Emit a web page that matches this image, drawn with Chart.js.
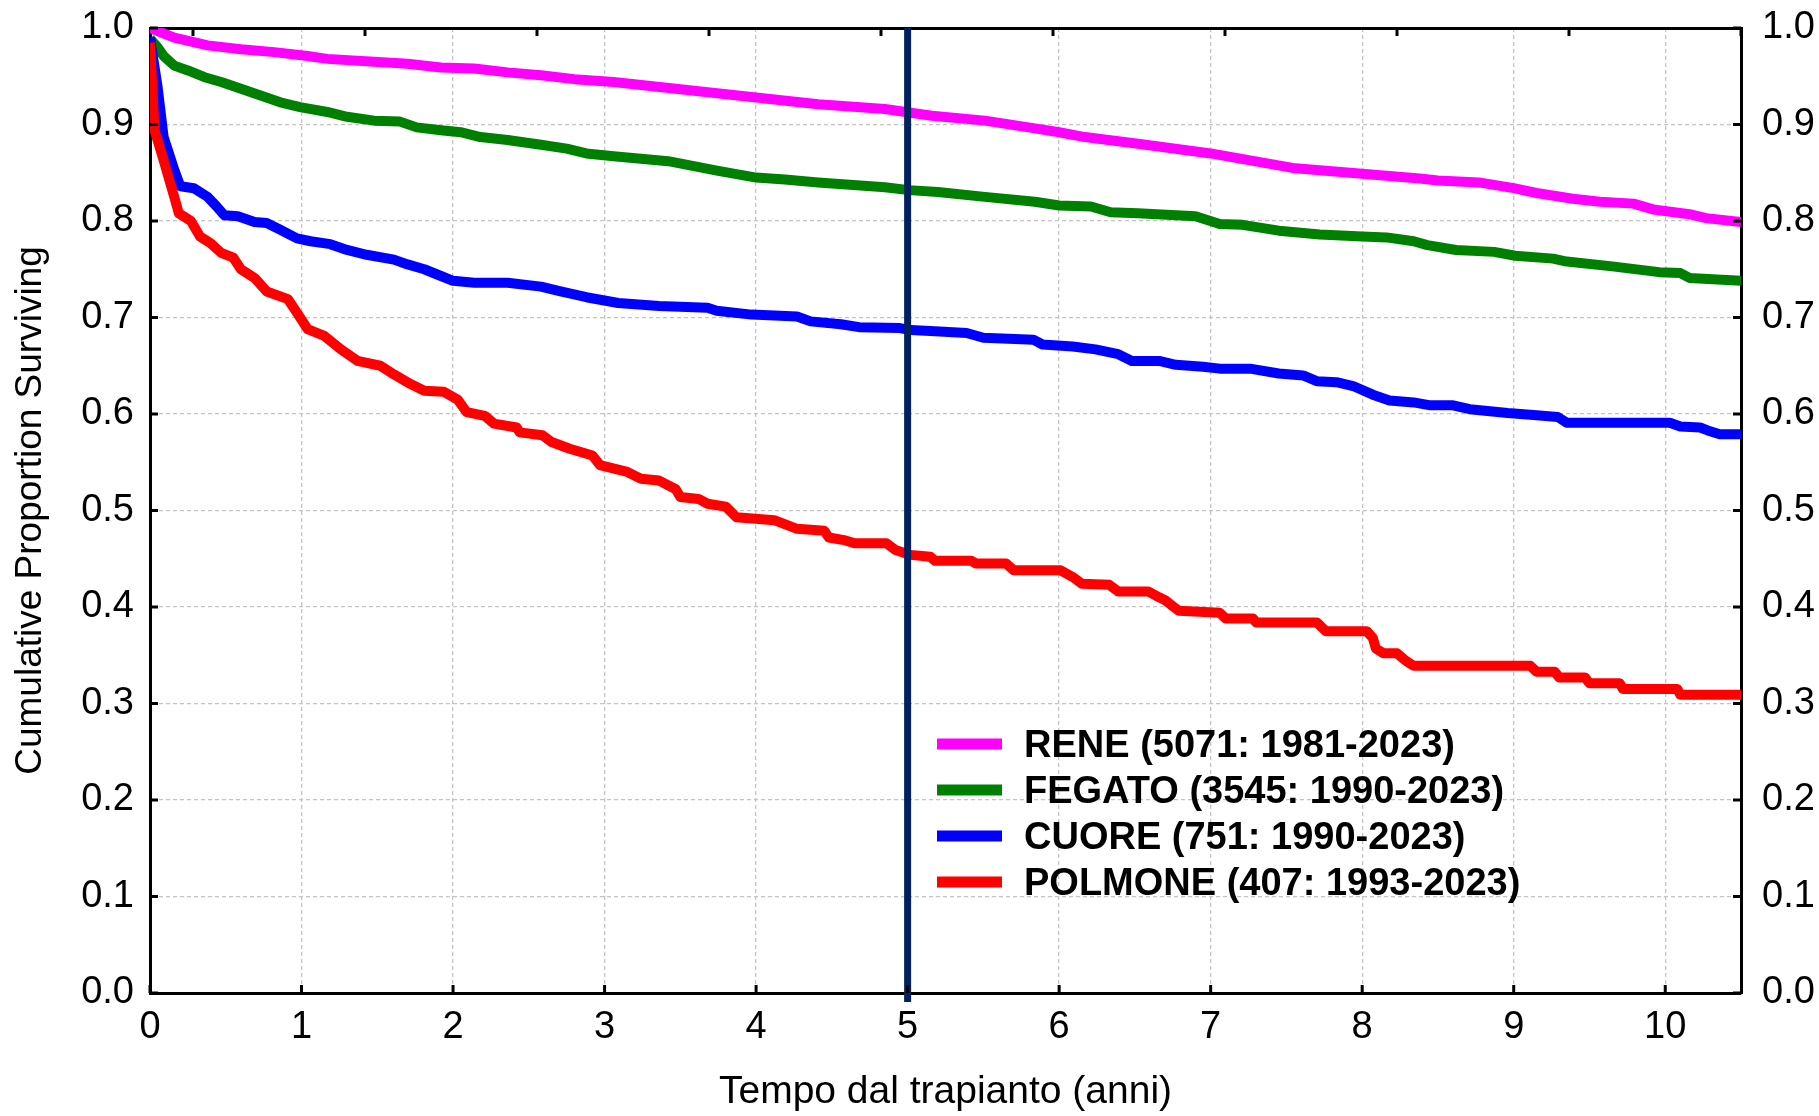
<!DOCTYPE html>
<html>
<head>
<meta charset="utf-8">
<script src="https://cdn.jsdelivr.net/npm/chart.js@4.4.1/dist/chart.umd.min.js"></script>
<style>
  html, body { margin: 0; padding: 0; background: #fff; overflow: hidden; }
  canvas { display: block; }
</style>
</head>
<body>
<canvas id="km" width="1819" height="1116"></canvas>
<script>
// Curve di sopravvivenza (Kaplan-Meier): anni -> proporzione
const reneT = [0, 0.16, 0.38, 0.6, 0.82, 1.04, 1.17, 1.48, 1.7, 1.92, 2.14, 2.36, 2.58, 2.8, 3.06, 3.53, 4.0, 4.41, 4.85, 5.01, 5.16, 5.51, 5.84, 6.0, 6.17, 6.52, 7.0, 7.54, 8.0, 8.38, 8.5, 8.77, 9.0, 9.15, 9.39, 9.57, 9.79, 9.92, 10.16, 10.27, 10.5];
const reneS = [1.0, 0.990, 0.982, 0.978, 0.975, 0.971, 0.968, 0.965, 0.963, 0.959, 0.958, 0.954, 0.951, 0.947, 0.944, 0.936, 0.928, 0.921, 0.916, 0.9125, 0.909, 0.904, 0.896, 0.892, 0.887, 0.880, 0.870, 0.855, 0.849, 0.844, 0.842, 0.840, 0.834, 0.829, 0.823, 0.820, 0.818, 0.812, 0.807, 0.803, 0.799];

const fegatoT = [0, 0.05, 0.09, 0.16, 0.25, 0.36, 0.47, 0.6, 0.73, 0.86, 0.99, 1.17, 1.3, 1.48, 1.65, 1.76, 1.92, 2.05, 2.18, 2.36, 2.58, 2.75, 2.88, 3.06, 3.42, 3.75, 4.0, 4.19, 4.41, 4.85, 5.01, 5.2, 5.51, 5.84, 6.0, 6.21, 6.34, 6.52, 6.9, 7.06, 7.21, 7.45, 7.72, 8.0, 8.16, 8.34, 8.43, 8.62, 8.87, 9.01, 9.26, 9.35, 9.65, 9.96, 10.1, 10.16, 10.5];
const fegatoS = [0.989, 0.98, 0.971, 0.961, 0.956, 0.949, 0.944, 0.937, 0.930, 0.923, 0.918, 0.913, 0.908, 0.904, 0.903, 0.897, 0.894, 0.892, 0.887, 0.884, 0.879, 0.875, 0.870, 0.867, 0.862, 0.852, 0.845, 0.843, 0.840, 0.835, 0.832, 0.830, 0.825, 0.820, 0.816, 0.815, 0.809, 0.808, 0.805, 0.797, 0.796, 0.790, 0.786, 0.784, 0.783, 0.779, 0.775, 0.770, 0.768, 0.764, 0.761, 0.758, 0.753, 0.747, 0.746, 0.741, 0.738];

const cuoreT = [0, 0.05, 0.09, 0.16, 0.2, 0.29, 0.38, 0.44, 0.49, 0.58, 0.69, 0.77, 0.86, 0.97, 1.06, 1.19, 1.3, 1.43, 1.61, 1.7, 1.81, 1.92, 2.0, 2.14, 2.36, 2.58, 2.71, 2.88, 3.09, 3.36, 3.68, 3.74, 3.97, 4.27, 4.36, 4.56, 4.68, 4.95, 5.02, 5.15, 5.39, 5.5, 5.83, 5.89, 6.09, 6.24, 6.39, 6.48, 6.66, 6.77, 6.95, 7.06, 7.26, 7.45, 7.61, 7.7, 7.83, 7.94, 8.07, 8.18, 8.34, 8.45, 8.6, 8.71, 8.96, 9.13, 9.29, 9.35, 10.03, 10.1, 10.23, 10.28, 10.36, 10.5];
const cuoreS = [0.99, 0.939, 0.887, 0.853, 0.836, 0.834, 0.825, 0.815, 0.806, 0.805, 0.799, 0.798, 0.791, 0.782, 0.779, 0.776, 0.770, 0.765, 0.760, 0.755, 0.750, 0.743, 0.738, 0.736, 0.736, 0.732, 0.727, 0.721, 0.715, 0.712, 0.710, 0.707, 0.703, 0.701, 0.696, 0.693, 0.690, 0.689, 0.687, 0.686, 0.684, 0.679, 0.677, 0.672, 0.670, 0.667, 0.662, 0.655, 0.655, 0.651, 0.649, 0.647, 0.647, 0.642, 0.640, 0.634, 0.633, 0.629, 0.620, 0.614, 0.612, 0.609, 0.609, 0.605, 0.601, 0.599, 0.597, 0.591, 0.591, 0.587, 0.586, 0.583, 0.579, 0.579];

const polmoneT = [0, 0.03, 0.09, 0.16, 0.19, 0.27, 0.33, 0.4, 0.47, 0.55, 0.6, 0.69, 0.77, 0.91, 0.97, 1.04, 1.15, 1.26, 1.37, 1.52, 1.61, 1.72, 1.81, 1.94, 2.03, 2.09, 2.21, 2.27, 2.42, 2.44, 2.59, 2.65, 2.77, 2.92, 2.97, 3.15, 3.24, 3.36, 3.47, 3.5, 3.62, 3.68, 3.8, 3.87, 4.12, 4.27, 4.45, 4.48, 4.59, 4.65, 4.86, 4.92, 5.02, 5.15, 5.18, 5.42, 5.45, 5.65, 5.7, 6.01, 6.09, 6.15, 6.33, 6.39, 6.59, 6.66, 6.7, 6.79, 7.06, 7.1, 7.28, 7.3, 7.7, 7.76, 8.03, 8.07, 8.09, 8.14, 8.23, 8.29, 8.34, 9.11, 9.15, 9.27, 9.3, 9.47, 9.5, 9.7, 9.72, 10.08, 10.1, 10.5];
const polmoneS = [0.985, 0.894, 0.863, 0.825, 0.808, 0.800, 0.784, 0.777, 0.767, 0.762, 0.750, 0.741, 0.727, 0.719, 0.705, 0.688, 0.681, 0.667, 0.655, 0.650, 0.641, 0.631, 0.624, 0.623, 0.615, 0.602, 0.598, 0.590, 0.586, 0.581, 0.578, 0.571, 0.564, 0.557, 0.547, 0.540, 0.533, 0.531, 0.522, 0.514, 0.512, 0.507, 0.504, 0.493, 0.490, 0.481, 0.479, 0.472, 0.469, 0.466, 0.466, 0.459, 0.454, 0.452, 0.448, 0.448, 0.445, 0.445, 0.438, 0.438, 0.431, 0.424, 0.423, 0.416, 0.416, 0.410, 0.407, 0.396, 0.394, 0.388, 0.388, 0.384, 0.384, 0.375, 0.375, 0.368, 0.357, 0.352, 0.352, 0.344, 0.339, 0.339, 0.333, 0.333, 0.327, 0.327, 0.321, 0.321, 0.315, 0.315, 0.309, 0.309];

const seriesLabels = ['RENE (5071: 1981-2023)', 'FEGATO (3545: 1990-2023)', 'CUORE (751: 1990-2023)', 'POLMONE (407: 1993-2023)'];
const seriesColors = ['#ff00ff', '#008000', '#0000ff', '#ff0000'];
const markerYear = 5; // linea verticale a 5 anni

const FONT = '"Liberation Sans", Arial, Helvetica, sans-serif';
Chart.defaults.font.family = FONT;
Chart.defaults.color = '#000';

const pts = (t, s) => t.map((x, i) => ({ x, y: s[i] }));
const series = [pts(reneT, reneS), pts(fegatoT, fegatoS), pts(cuoreT, cuoreS), pts(polmoneT, polmoneS)];

// tacche interne sui quattro lati (stile STATISTICA)
const innerTicks = {
  id: 'innerTicks',
  afterDraw(chart, args, o) {
    const { ctx, chartArea: a, scales } = chart;
    const len = o.length;
    ctx.save();
    ctx.strokeStyle = '#000';
    ctx.lineWidth = o.width;
    ctx.beginPath();
    scales.x.ticks.forEach(t => {
      const px = scales.x.getPixelForValue(t.value);
      ctx.moveTo(px, a.bottom); ctx.lineTo(px, a.bottom - len);
    });
    scales.x2.ticks.forEach(t => {
      const px = scales.x2.getPixelForValue(t.value);
      ctx.moveTo(px, a.top); ctx.lineTo(px, a.top + len);
    });
    scales.y.ticks.forEach(t => {
      const py = scales.y.getPixelForValue(t.value);
      ctx.moveTo(a.left, py); ctx.lineTo(a.left + len, py);
      ctx.moveTo(a.right, py); ctx.lineTo(a.right - len, py);
    });
    ctx.stroke();
    ctx.restore();
  },
};

const markerLine = {
  id: 'markerLine',
  afterDatasetsDraw(chart, args, o) {
    const { ctx, chartArea: a, scales: { x } } = chart;
    const px = x.getPixelForValue(o.value);
    ctx.save();
    ctx.strokeStyle = o.color;
    ctx.lineWidth = o.width;
    ctx.beginPath();
    ctx.moveTo(px, a.top);
    ctx.lineTo(px, a.bottom + o.overshoot);
    ctx.stroke();
    ctx.restore();
  },
};

// legenda dentro l'area del grafico
const kmLegend = {
  id: 'kmLegend',
  afterDraw(chart, args, o) {
    const { ctx } = chart;
    ctx.save();
    ctx.font = `bold ${o.fontSize}px ${FONT}`;
    ctx.textBaseline = 'middle';
    ctx.textAlign = 'left';
    chart.data.datasets.forEach((ds, i) => {
      const y = o.top + i * o.rowGap;
      ctx.fillStyle = ds.borderColor;
      ctx.fillRect(o.left, y - o.swatchH / 2, o.swatchW, o.swatchH);
      ctx.fillStyle = '#000';
      ctx.fillText(ds.label, o.left + o.textGap, y + 3);
    });
    ctx.restore();
  },
};

const gridDash = { color: '#c4c4c4', lineWidth: 1.3, drawTicks: false };
const frame = { display: true, color: '#000', width: 3, dash: [4, 3] };
// lineHeight ridotto: evita che le etichette y spingano giù l'area del grafico
const yTickFont = { size: 38, lineHeight: 0.3 };
const fmt = v => v.toFixed(1);

new Chart(document.getElementById('km'), {
  type: 'line',
  data: {
    datasets: series.map((data, i) => ({
      label: seriesLabels[i],
      data,
      borderColor: seriesColors[i],
      backgroundColor: seriesColors[i],
      borderWidth: 10,
      borderJoinStyle: 'round',
      pointRadius: 0,
      tension: 0,
      fill: false,
      order: i === 3 ? 0 : 4 - i,
    })),
  },
  options: {
    responsive: false,
    animation: false,
    events: [],
    layout: { padding: 0 },
    plugins: {
      legend: { display: false },
      tooltip: { enabled: false },
      innerTicks: { length: 8, width: 3 },
      markerLine: { value: markerYear, color: '#002060', width: 7, overshoot: 9 },
      kmLegend: { left: 937, top: 744, rowGap: 46, swatchW: 65, swatchH: 11, textGap: 87, fontSize: 38 },
    },
    scales: {
      x: {
        type: 'linear', position: 'bottom', min: 0, max: 10.5,
        ticks: { stepSize: 1, includeBounds: false, padding: 12, maxRotation: 0, font: { size: 38 }, color: '#000' },
        grid: gridDash,
        border: frame,
        title: { display: true, text: 'Tempo dal trapianto (anni)', font: { size: 39 }, color: '#000', padding: { top: 0, bottom: 0 } },
        afterFit: s => { s.height = 123; },
      },
      x2: {
        type: 'linear', position: 'top', min: -0.25, max: 9,
        ticks: { display: false, stepSize: 1, includeBounds: false },
        grid: { display: false, drawTicks: false },
        border: frame,
        afterFit: s => { s.height = 28; },
      },
      y: {
        type: 'linear', position: 'left', min: 0, max: 1,
        ticks: { stepSize: 0.1, padding: 16, font: yTickFont, color: '#000', callback: fmt },
        grid: gridDash,
        border: frame,
        title: { display: true, text: 'Cumulative Proportion Surviving', font: { size: 37 }, color: '#000', padding: { top: 9, bottom: 0 } },
        afterFit: s => { s.width = 150; },
      },
      y2: {
        type: 'linear', position: 'right', min: 0, max: 1,
        ticks: { stepSize: 0.1, padding: 21, font: yTickFont, color: '#000', callback: fmt },
        grid: { display: false, drawTicks: false },
        border: frame,
        afterFit: s => { s.width = 78; },
      },
    },
  },
  plugins: [innerTicks, markerLine, kmLegend],
});
</script>
</body>
</html>
